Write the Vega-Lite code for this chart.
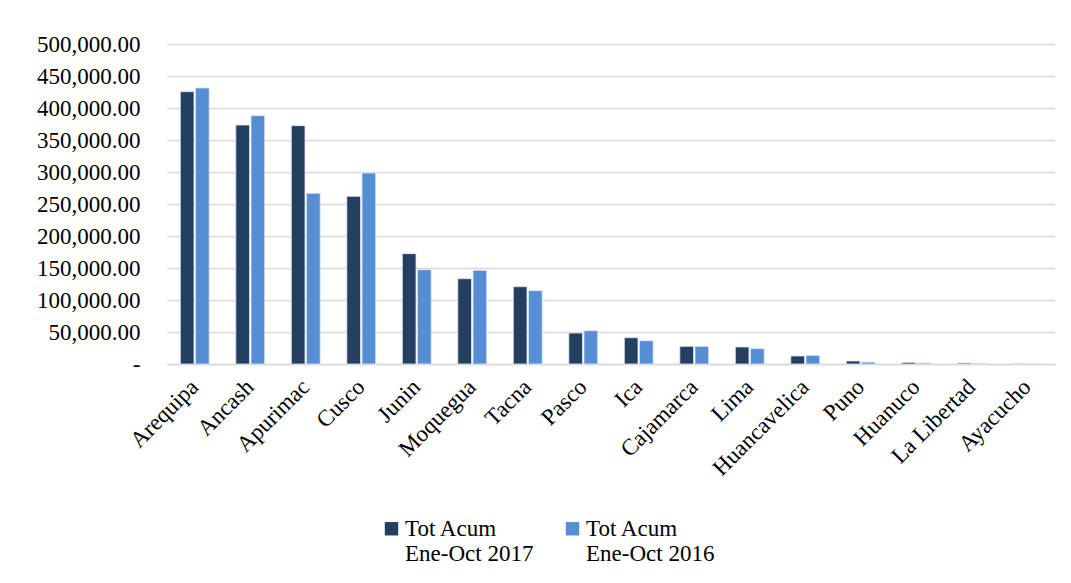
{
  "$schema": "https://vega.github.io/schema/vega-lite/v6.json",
  "width": 888,
  "height": 320,
  "autosize": "none",
  "padding": {"left": 167, "top": 44, "right": 16, "bottom": 219},
  "background": "white",
  "config": {
    "font": "Liberation Serif",
    "view": {"stroke": null},
    "axis": {"labelFont": "Liberation Serif", "labelColor": "#000000", "labelFontSize": 23},
    "legend": {"labelFont": "Liberation Serif"}
  },
  "data": {
    "values": [
      {"region": "Arequipa", "serie": "Tot Acum|Ene-Oct 2017", "value": 425500},
      {"region": "Arequipa", "serie": "Tot Acum|Ene-Oct 2016", "value": 431250},
      {"region": "Ancash", "serie": "Tot Acum|Ene-Oct 2017", "value": 373400},
      {"region": "Ancash", "serie": "Tot Acum|Ene-Oct 2016", "value": 388000},
      {"region": "Apurimac", "serie": "Tot Acum|Ene-Oct 2017", "value": 372400},
      {"region": "Apurimac", "serie": "Tot Acum|Ene-Oct 2016", "value": 266700},
      {"region": "Cusco", "serie": "Tot Acum|Ene-Oct 2017", "value": 262000},
      {"region": "Cusco", "serie": "Tot Acum|Ene-Oct 2016", "value": 298400},
      {"region": "Junin", "serie": "Tot Acum|Ene-Oct 2017", "value": 172400},
      {"region": "Junin", "serie": "Tot Acum|Ene-Oct 2016", "value": 147400},
      {"region": "Moquegua", "serie": "Tot Acum|Ene-Oct 2017", "value": 133300},
      {"region": "Moquegua", "serie": "Tot Acum|Ene-Oct 2016", "value": 146300},
      {"region": "Tacna", "serie": "Tot Acum|Ene-Oct 2017", "value": 120800},
      {"region": "Tacna", "serie": "Tot Acum|Ene-Oct 2016", "value": 114600},
      {"region": "Pasco", "serie": "Tot Acum|Ene-Oct 2017", "value": 48400},
      {"region": "Pasco", "serie": "Tot Acum|Ene-Oct 2016", "value": 52000},
      {"region": "Ica", "serie": "Tot Acum|Ene-Oct 2017", "value": 41100},
      {"region": "Ica", "serie": "Tot Acum|Ene-Oct 2016", "value": 36400},
      {"region": "Cajamarca", "serie": "Tot Acum|Ene-Oct 2017", "value": 27600},
      {"region": "Cajamarca", "serie": "Tot Acum|Ene-Oct 2016", "value": 27600},
      {"region": "Lima", "serie": "Tot Acum|Ene-Oct 2017", "value": 26600},
      {"region": "Lima", "serie": "Tot Acum|Ene-Oct 2016", "value": 24000},
      {"region": "Huancavelica", "serie": "Tot Acum|Ene-Oct 2017", "value": 12500},
      {"region": "Huancavelica", "serie": "Tot Acum|Ene-Oct 2016", "value": 13500},
      {"region": "Puno", "serie": "Tot Acum|Ene-Oct 2017", "value": 4700},
      {"region": "Puno", "serie": "Tot Acum|Ene-Oct 2016", "value": 3000},
      {"region": "Huanuco", "serie": "Tot Acum|Ene-Oct 2017", "value": 2500},
      {"region": "Huanuco", "serie": "Tot Acum|Ene-Oct 2016", "value": 1500},
      {"region": "La Libertad", "serie": "Tot Acum|Ene-Oct 2017", "value": 1500},
      {"region": "La Libertad", "serie": "Tot Acum|Ene-Oct 2016", "value": 1000},
      {"region": "Ayacucho", "serie": "Tot Acum|Ene-Oct 2017", "value": 300},
      {"region": "Ayacucho", "serie": "Tot Acum|Ene-Oct 2016", "value": 200}
    ]
  },
  "mark": {"type": "bar", "stroke": "#dfe6f0", "strokeWidth": 0.8},
  "encoding": {
    "x": {
      "field": "region",
      "type": "nominal",
      "sort": null,
      "title": null,
      "scale": {"paddingInner": 0.48, "paddingOuter": 0.24},
      "axis": {
        "labelAngle": -45,
        "labelAlign": "right",
        "labelBaseline": "middle",
        "labelPadding": 19,
        "labelFontSize": 23,
        "ticks": false,
        "domainColor": "#d9d9d9",
        "domainWidth": 1.5,
        "grid": false
      }
    },
    "xOffset": {
      "field": "serie",
      "type": "nominal",
      "sort": ["Tot Acum|Ene-Oct 2017", "Tot Acum|Ene-Oct 2016"],
      "scale": {"paddingInner": 0.1}
    },
    "y": {
      "field": "value",
      "type": "quantitative",
      "title": null,
      "scale": {"domain": [0, 500000], "nice": false},
      "axis": {
        "values": [0, 50000, 100000, 150000, 200000, 250000, 300000, 350000, 400000, 450000, 500000],
        "labelExpr": "datum.value == 0 ? '-' : format(datum.value, ',.2f')",
        "labelFontSize": 23,
        "domain": false,
        "ticks": false,
        "labelPadding": 27,
        "gridColor": "#d9d9d9",
        "gridWidth": 1.5
      }
    },
    "color": {
      "field": "serie",
      "type": "nominal",
      "sort": ["Tot Acum|Ene-Oct 2017", "Tot Acum|Ene-Oct 2016"],
      "scale": {"range": ["#243F60", "#558ED5"]},
      "legend": {
        "title": null,
        "orient": "none",
        "legendX": 213,
        "legendY": 473,
        "direction": "horizontal",
        "symbolType": "square",
        "symbolSize": 180,
        "symbolStrokeWidth": 0,
        "labelFontSize": 23,
        "labelColor": "#000000",
        "labelLimit": 300,
        "labelBaseline": "middle",
        "labelExpr": "split(datum.label, '|')",
        "columnPadding": 27,
        "labelOffset": 2
      }
    }
  }
}
